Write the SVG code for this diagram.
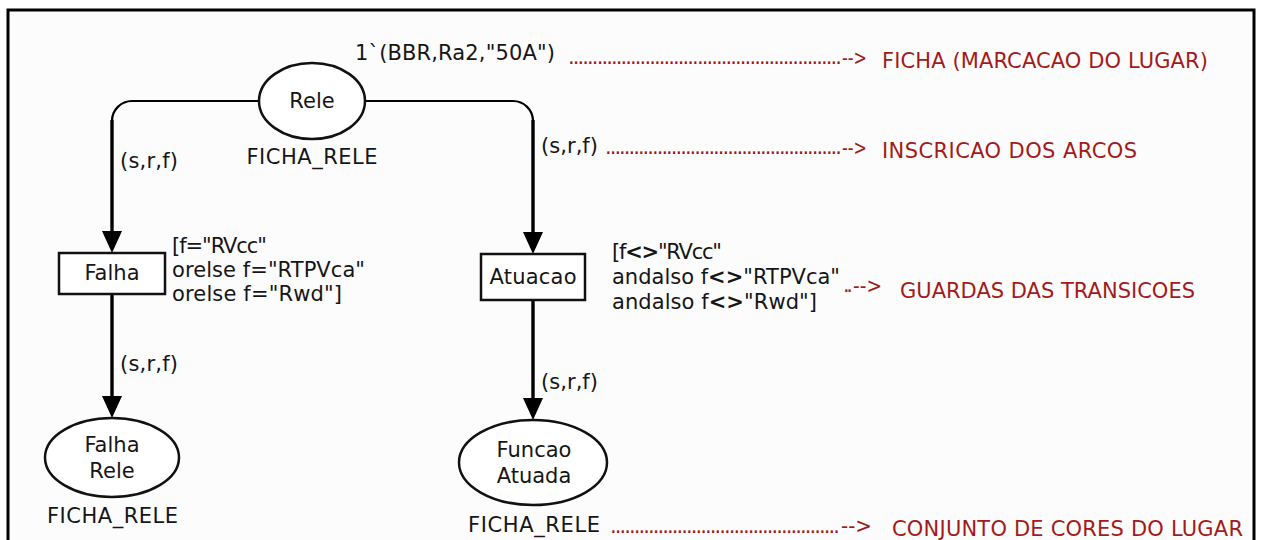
<svg xmlns="http://www.w3.org/2000/svg" width="1261" height="540" viewBox="0 0 1261 540">
<style>
.t{font-family:"DejaVu Sans",Verdana,sans-serif;font-size:21px;fill:#161616}
.r{fill:#a31a1a}
.m{text-anchor:middle}
.node{fill:#fff;stroke:#111;stroke-width:2.5}
.arc{fill:none;stroke:#000}
.h{stroke-width:2.2}
.v{stroke-width:3.4}
</style>
<defs>
<marker id="ah" markerUnits="userSpaceOnUse" viewBox="0 0 22 20" markerWidth="22" markerHeight="20" refX="17" refY="10" orient="auto">
<path d="M0,0 L22,10 L0,20 z" fill="#000"/>
</marker>
</defs>
<rect x="8" y="10" width="1246" height="545" fill="#fcfcfc" stroke="#000" stroke-width="3"/>

<g id="connectors">
<g id="arc-rele-falha">
<path class="arc h" d="M259 101 H132 A20 20 0 0 0 112 121"/>
<path class="arc v" d="M112 120 V248" marker-end="url(#ah)"/>
</g>
<g id="arc-rele-atuacao">
<path class="arc h" d="M366 101 H513 A20 20 0 0 1 533 121"/>
<path class="arc v" d="M533 120 V249" marker-end="url(#ah)"/>
</g>
<g id="arc-falha-falharele">
<path class="arc v" d="M112 294 V413" marker-end="url(#ah)"/>
</g>
<g id="arc-atuacao-funcao">
<path class="arc v" d="M533 300 V415" marker-end="url(#ah)"/>
</g>
<text class="t" x="120" y="168" textLength="58">(s,r,f)</text>
<text class="t" x="541" y="153" textLength="57">(s,r,f)</text>
<text class="t" x="120" y="371" textLength="58">(s,r,f)</text>
<text class="t" x="541" y="389" textLength="57">(s,r,f)</text>
</g>

<g id="rele">
<ellipse class="node" cx="312" cy="101" rx="53" ry="38"/>
<text class="t m" x="312" y="108">Rele</text>
<text class="t" x="355" y="60" textLength="200">1`(BBR,Ra2,"50A")</text>
<text class="t m" x="312" y="164" textLength="131">FICHA_RELE</text>
</g>

<g id="falha">
<rect class="node" x="59" y="253" width="106" height="41"/>
<text class="t m" x="112" y="280">Falha</text>
<text class="t" x="172" y="253" textLength="95">[f="RVcc"</text>
<text class="t" x="172" y="277" textLength="193">orelse f="RTPVca"</text>
<text class="t" x="172" y="301" textLength="170">orelse f="Rwd"]</text>
</g>

<g id="atuacao">
<rect class="node" x="481" y="254" width="104" height="46"/>
<text class="t m" x="533" y="284" textLength="87">Atuacao</text>
<text class="t" x="612" y="259" textLength="110">[f<tspan font-weight="bold">&lt;&gt;</tspan>"RVcc"</text>
<text class="t" x="612" y="284" textLength="228">andalso f<tspan font-weight="bold">&lt;&gt;</tspan>"RTPVca"</text>
<text class="t" x="612" y="309" textLength="205">andalso f<tspan font-weight="bold">&lt;&gt;</tspan>"Rwd"]</text>
</g>

<g id="falha-rele">
<ellipse class="node" cx="112" cy="457.5" rx="67" ry="39.5"/>
<text class="t m" x="112" y="452">Falha</text>
<text class="t m" x="112" y="478">Rele</text>
<text class="t m" x="112.5" y="523" textLength="131">FICHA_RELE</text>
</g>

<g id="funcao-atuada">
<ellipse class="node" cx="533" cy="462.5" rx="74" ry="42.5"/>
<text class="t m" x="534" y="457">Funcao</text>
<text class="t m" x="534" y="483">Atuada</text>
<text class="t m" x="534" y="532" textLength="132">FICHA_RELE</text>
</g>

<g id="annotations">
<text class="t r" x="568" y="64" textLength="274" lengthAdjust="spacing">.........................................................</text>
<text class="t r" x="842" y="65" textLength="25" lengthAdjust="spacingAndGlyphs">--&gt;</text>
<text class="t r" x="882" y="68" textLength="326">FICHA (MARCACAO DO LUGAR)</text>
<text class="t r" x="605" y="154" textLength="237" lengthAdjust="spacing">..................................................</text>
<text class="t r" x="842" y="155" textLength="25" lengthAdjust="spacingAndGlyphs">--&gt;</text>
<text class="t r" x="882" y="158" textLength="255">INSCRICAO DOS ARCOS</text>
<text class="t r" x="843" y="292" textLength="10" lengthAdjust="spacing">..</text>
<text class="t r" x="853" y="293" textLength="29" lengthAdjust="spacingAndGlyphs">--&gt;</text>
<text class="t r" x="900" y="298" textLength="295">GUARDAS DAS TRANSICOES</text>
<text class="t r" x="610" y="533" textLength="230" lengthAdjust="spacing">................................................</text>
<text class="t r" x="841" y="533" textLength="31" lengthAdjust="spacingAndGlyphs">--&gt;</text>
<text class="t r" x="892" y="536" textLength="351">CONJUNTO DE CORES DO LUGAR</text>
</g>
</svg>
